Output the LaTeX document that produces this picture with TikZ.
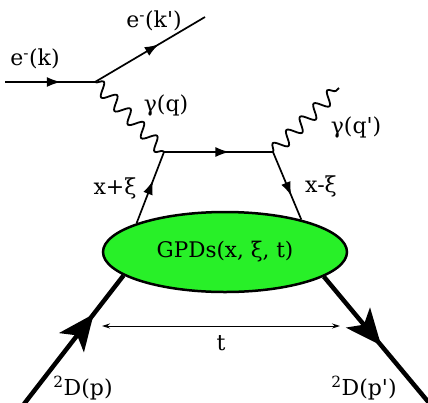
\documentclass[tikz,border=0pt]{standalone}
\usepackage{fontspec}
\setmainfont{DejaVu Serif}
\usetikzlibrary{arrows.meta,decorations.markings,decorations.pathmorphing,shapes.geometric}

\definecolor{blobgreen}{RGB}{40, 240, 40}

\tikzset{
    fermion/.style={line width=1.7pt, postaction={decorate},
        decoration={markings, mark=at position #1 with {\arrow{Latex[length=14pt, width=10pt]}}}},
    fermion/.default=0.6,
    hadron/.style={line width=4.5pt, postaction={decorate},
        decoration={markings, mark=at position #1 with {\arrow{Stealth[length=36pt, width=31pt, inset=9pt]}}}},
    photon/.style={line width=1.8pt, decorate,
        decoration={snake, amplitude=6.5pt, segment length=19pt}},
    lbl/.style={font=\fontsize{22}{26}\selectfont, inner sep=0pt},
}

\begin{document}
\begin{tikzpicture}[x=1pt, y=-1pt]
    \useasboundingbox (0,0) rectangle (428,402);

    % Vertices and free ends
    \coordinate (eIn) at (5,82);
    \coordinate (vtxE) at (95,82);
    \coordinate (eOut) at (205,17);
    \coordinate (vtxL) at (164,152);
    \coordinate (vtxR) at (273,152);
    \coordinate (gOut) at (339,88);
    \coordinate (pIn) at (24,404);
    \coordinate (pOut) at (430,404);

    % GPD blob
    \node[ellipse, draw, line width=2.5pt, fill=blobgreen, minimum width=244pt,
        minimum height=80pt, inner sep=0pt, font=\fontsize{21.5}{26}\selectfont] (gpd) at (225,252) {GPDs(x, ξ, t)};

    % Electron lines
    \draw[fermion=0.62] (eIn) -- (vtxE);
    \draw[fermion=0.58] (vtxE) -- (eOut);

    % Photons
    \draw[photon] (vtxE) -- (vtxL);
    \draw[photon] (vtxR) -- (gOut);

    % Quark lines
    \draw[fermion=0.6] (gpd.162) -- (vtxL);
    \draw[fermion=0.6] (vtxL) -- (vtxR);
    \draw[fermion=0.65] (vtxR) -- (gpd.23);

    % Deuteron lines
    \draw[hadron=0.7] (pIn) -- (gpd.193);
    \draw[hadron=0.54] (gpd.346) -- (pOut);

    % Momentum transfer
    \coordinate (tL) at (102,326);
    \coordinate (tR) at (340,326);
    \draw[{Stealth[length=8pt, width=5pt]}-{Stealth[length=8pt, width=5pt]}, line width=0.9pt] (tL) -- (tR)
        node[lbl, midway, below=9pt] (tlbl) {t};

    % Labels
    \node[lbl] (ekIn) at (35,59) {e\textsuperscript{-}(k)};
    \node[lbl] (ekOut) at (154,21) {e\textsuperscript{-}(k\textquotesingle)};
    \node[lbl] (gq) at (166,105) {γ(q)};
    \node[lbl] (gqp) at (356,127) {γ(q\textquotesingle)};
    \node[lbl] (xp) at (115,188) {x+ξ};
    \node[lbl] (xm) at (321,186) {x-ξ};
    \node[lbl] (dIn) at (83,388) {\textsuperscript{2}D(p)};
    \node[lbl] (dOut) at (364,388) {\textsuperscript{2}D(p\textquotesingle)};

\end{tikzpicture}
\end{document}
